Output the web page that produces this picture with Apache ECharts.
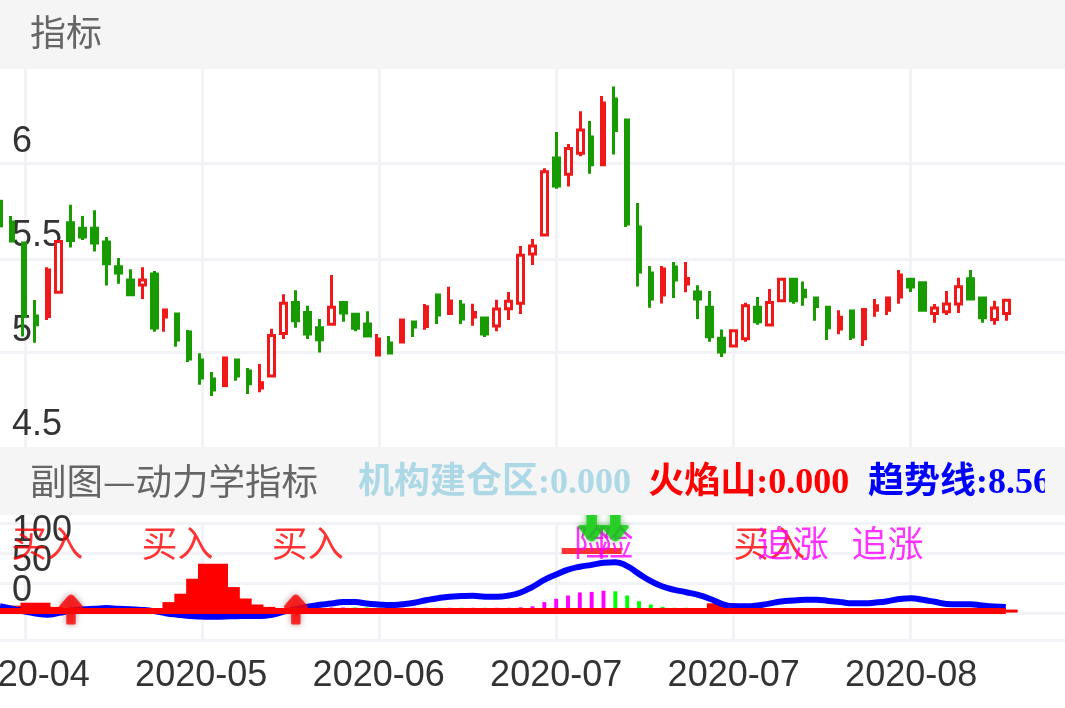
<!DOCTYPE html>
<html>
<head>
<meta charset="utf-8">
<title>指标</title>
<script src="https://cdn.jsdelivr.net/npm/echarts@6/dist/echarts.min.js"></script>
<style>
html, body { margin: 0; padding: 0; width: 100%; height: 100%; background: #fff; }
/* 手机图表尺寸 355x236，放大 3 倍显示 */
#main { width: 355px; height: 236px; transform: scale(3); transform-origin: 0 0; }
</style>
</head>
<body>
<div id="main"></div>
<script>
// 日期（横轴类目）
const categories = [
    '2020-04','2020-04','2020-04','2020-04','2020-04','2020-04','2020-04','2020-04','2020-04','2020-04',
    '2020-04','2020-04','2020-04','2020-04','2020-04','2020-05','2020-05','2020-05','2020-05','2020-05',
    '2020-05','2020-05','2020-05','2020-05','2020-05','2020-05','2020-05','2020-05','2020-05','2020-05',
    '2020-05','2020-06','2020-06','2020-06','2020-06','2020-06','2020-06','2020-06','2020-06','2020-06',
    '2020-06','2020-06','2020-06','2020-06','2020-06','2020-06','2020-06','2020-07','2020-07','2020-07',
    '2020-07','2020-07','2020-07','2020-07','2020-07','2020-07','2020-07','2020-07','2020-07','2020-07',
    '2020-07','2020-07','2020-07','2020-07','2020-07','2020-07','2020-07','2020-07','2020-07','2020-07',
    '2020-07','2020-07','2020-08','2020-08','2020-08','2020-08','2020-08','2020-08','2020-08','2020-08',
    '2020-08','2020-08','2020-08','2020-08','2020-08','2020-08','2020-08','2020-08','2020-08','2020-08',
    '2020-08'
];

// K线
const opens = [
    5.80,5.69,5.58,5.193,5.19,5.319,5.687,5.657,5.657,5.585,5.454,5.384,5.357,5.416,5.188,5.204,5.109,4.96,4.86,4.825,
    4.96,4.902,4.812,4.876,5.101,5.264,5.212,5.131,5.149,5.264,5.202,5.151,4.987,5.05,5.055,5.161,5.137,5.304,5.207,5.251,
    5.188,5.182,5.14,5.232,5.26,5.521,5.622,6.029,5.943,6.054,6.14,5.994,6.341,6.23,5.664,5.421,5.304,5.453,5.363,5.32,
    5.239,5.076,5.034,5.073,5.239,5.145,5.274,5.388,5.33,5.288,5.239,5.124,5.219,5.073,5.224,5.224,5.293,5.388,5.369,5.207,
    5.216,5.256,5.39,5.288,5.175,5.207
];
const closes = [
    5.67,5.59,5.193,5.147,5.437,5.587,5.592,5.611,5.58,5.47,5.421,5.306,5.384,5.13,5.225,5.066,4.966,4.865,4.802,4.971,
    4.876,4.834,4.84,5.09,5.26,5.168,5.098,5.068,5.239,5.209,5.128,5.087,5.071,4.997,5.172,5.135,5.242,5.198,5.272,5.177,
    5.212,5.098,5.23,5.271,5.514,5.563,5.957,5.881,6.079,6.177,5.994,6.32,6.174,5.68,5.426,5.283,5.442,5.384,5.391,5.283,
    5.083,5.002,5.115,5.247,5.163,5.265,5.387,5.274,5.295,5.244,5.131,5.187,5.082,5.228,5.247,5.288,5.41,5.346,5.224,5.235,
    5.256,5.348,5.283,5.184,5.235,5.277
];
const lows = [
    5.67,5.59,5.084,5.052,5.172,5.319,5.555,5.595,5.534,5.354,5.364,5.306,5.283,5.11,5.11,5.031,4.95,4.83,4.77,4.825,
    4.85,4.781,4.79,4.876,5.071,5.131,5.071,5.0,5.149,5.163,5.112,5.082,4.981,4.992,5.05,5.082,5.121,5.151,5.2,5.151,
    5.142,5.082,5.112,5.172,5.204,5.463,5.622,5.867,5.878,6.038,5.946,5.987,6.047,5.664,5.349,5.237,5.259,5.289,5.319,5.177,
    5.057,4.976,5.027,5.057,5.147,5.145,5.274,5.258,5.247,5.168,5.066,5.097,5.066,5.034,5.189,5.198,5.258,5.32,5.224,5.157,
    5.198,5.209,5.277,5.157,5.147,5.168
];
const highs = [
    5.80,5.722,5.58,5.278,5.451,5.587,5.782,5.722,5.752,5.611,5.5,5.44,5.451,5.431,5.23,5.204,5.119,4.996,4.897,4.971,
    4.96,4.918,4.939,5.126,5.308,5.329,5.248,5.177,5.41,5.269,5.207,5.218,5.098,5.087,5.172,5.167,5.256,5.304,5.348,5.278,
    5.258,5.188,5.279,5.32,5.563,5.6,5.975,6.167,6.103,6.276,6.225,6.357,6.408,6.23,5.791,5.458,5.458,5.479,5.479,5.356,
    5.325,5.122,5.122,5.263,5.293,5.336,5.387,5.396,5.376,5.293,5.239,5.224,5.224,5.228,5.283,5.288,5.436,5.394,5.369,5.256,
    5.325,5.396,5.436,5.293,5.274,5.277
];

// 趋势线
const trendLine = [
    12,8,3.5,0,-2,1,5,7,8,9,8,7,6,4,0.5,-2,-4,-5,-5.5,-5,
    -4.5,-4,-4,-2,3,7,11.5,14.5,16.5,19,19,16.5,15,14,15.5,18,22,25.5,28,29,
    29.5,28,28,30,35,44.5,56,65,73,78,81,84.5,85.5,79,66,54,45,39.5,35.5,31,
    24.5,16,12,12,13.3,16.5,20,21.7,22.8,22.8,21,19,17,17,18.3,20.5,24,25.5,22.8,19.5,
    16,15.5,15.5,13.3,11.7,11
];
// 火焰山 [类目序号, 数值]
const fireMountain = [
    [2,13],[3,18],[4,11],[15,19],[16,33],[17,58],[18,83],[19,44],[20,25],[21,15],[22,11],[23,5],[61,17],[62,12],[63,6]
];
// 机构建仓区 细柱
const magentaSticks = [
    [25,10],[26,10],[27,10],[28,10],[29,10],[34,9.5],[35,9.5],[36,9.5],[38,9.5],[40,9.5],[42,9.5],[43,9.5],[44,10.3],
    [45,12],[46,19],[47,24.5],[48,30],[49,35],[50,36],[51,38]
];
const greenSticks = [
    [30,10],[31,10],[32,10],[33,9.5],[37,9.5],[39,9.5],[41,9.5],[52,37],[53,30],[54,20.5],[55,15],[56,11],[57,9.5],[58,9.5]
];
// 底部红线
const baseThick = [[0,4],[85,4]];
const baseThin = [[85,4],[86,4]];
const topBar = [[50,104]];

// 信号
const buyPoints = [[4,117],[15,117],[26,117],[65,117]];
const chasePoints = [[67,117],[75,117]];
const riskPoints = [[50,119],[52,119]];
const upArrows = [[6,6.7],[25,6.7]];
const downArrows = [[50,150],[52,150]];

// 刻度
const mainGridTicks = [4.5, 5, 5.5, 6];
const subGridTicks = [-45, 0, 50, 100, 150];

const candleData = opens.map((o, i) => [o, closes[i], lows[i], highs[i]]);

const RED = '#f01818';
const GREEN = '#189b00';
const GRID_COLOR = '#f2f3f6';
const CJK = '"Noto Sans CJK SC", sans-serif';
const ARROW = 'path://M5 0Q5.8 0 6.4 .8L10 5.4Q10.4 6.4 9.2 6.4L7 6.4L7 13.4Q7 14 6.4 14L3.6 14Q3 14 3 13.4L3 6.4L.8 6.4Q-.4 6.4 0 5.4L3.6 .8Q4.2 0 5 0Z';

const showTick = (i) => (i - 2) % 15 === 0;

function textSeries(name, data, color, xIdx) {
    return {
        name: name,
        type: 'scatter',
        xAxisIndex: xIdx,
        yAxisIndex: 1,
        data: data,
        symbolSize: 1,
        clip: false,
        z: 6,
        itemStyle: { color: 'transparent' },
        label: {
            show: true,
            position: 'inside',
            formatter: name,
            color: color,
            fontSize: 12,
            fontFamily: CJK,
            textBorderWidth: 0
        }
    };
}

function barText(text, left, top, color, bold, size) {
    return {
        type: 'text',
        left: left,
        top: top,
        z: 101,
        style: {
            text: text,
            fill: color,
            fontSize: size || 12,
            fontWeight: bold ? 'bold' : 'normal',
            fontFamily: bold ? '"Liberation Serif", "Noto Sans CJK SC", serif' : CJK
        }
    };
}

const option = {
    animation: false,
    backgroundColor: '#fff',
    grid: [
        { left: 0, right: 0, top: 23, height: 126, outerBoundsMode: 'none' },
        { left: 0, right: 0, top: 174.5, height: 39, outerBoundsMode: 'none' }
    ],
    xAxis: [
        {
            type: 'category', gridIndex: 0, data: categories, boundaryGap: false,
            axisLine: { show: false }, axisTick: { show: false }, axisLabel: { show: false },
            splitLine: { show: true, interval: showTick, lineStyle: { color: GRID_COLOR, width: 1 } }
        },
        {
            type: 'category', gridIndex: 1, data: categories, boundaryGap: false,
            axisLine: { show: false }, axisTick: { show: false },
            axisLabel: { interval: showTick, color: '#333', fontSize: 12, margin: 6, fontFamily: 'Liberation Sans' },
            splitLine: { show: true, interval: showTick, lineStyle: { color: GRID_COLOR, width: 1 } }
        },
        {
            type: 'category', gridIndex: 1, data: categories, boundaryGap: false, show: false
        }
    ],
    yAxis: [
        {
            type: 'value', gridIndex: 0, min: 4.5, max: 6.5, interval: 0.5, scale: true,
            axisLine: { show: false },
            axisTick: { show: false, customValues: mainGridTicks },
            axisLabel: {
                inside: true, margin: 4, color: '#333', fontSize: 12, fontFamily: 'Liberation Sans',
                verticalAlign: 'bottom', padding: [0, 0, 1.2, 0],
                formatter: (v) => (v > 6.2 ? '' : String(v))
            },
            splitLine: { show: true, lineStyle: { color: GRID_COLOR, width: 1 } }
        },
        {
            type: 'value', gridIndex: 1, min: -45, max: 150,
            axisLine: { show: false },
            axisTick: { show: false, customValues: subGridTicks },
            axisLabel: {
                inside: true, margin: 4, color: '#333', fontSize: 12, fontFamily: 'Liberation Sans',
                verticalAlign: 'bottom', padding: [0, 0, 1.5, 0],
                customValues: subGridTicks,
                formatter: (v) => (v === 0 || v === 50 || v === 100 ? String(v) : '')
            },
            splitLine: { show: true, lineStyle: { color: GRID_COLOR, width: 1 } }
        }
    ],
    series: [
        {
            name: '指标',
            type: 'candlestick',
            xAxisIndex: 0,
            yAxisIndex: 0,
            data: candleData,
            itemStyle: {
                color: '#fff',
                color0: GREEN,
                borderColor: RED,
                borderColor0: GREEN,
                borderWidth: 1
            }
        },
        {
            name: '火焰山',
            type: 'bar',
            xAxisIndex: 1,
            yAxisIndex: 1,
            data: fireMountain,
            barWidth: 10,
            z: 2,
            itemStyle: { color: '#f00' }
        },
        {
            name: '机构建仓区',
            type: 'bar',
            xAxisIndex: 2,
            yAxisIndex: 1,
            data: magentaSticks,
            barWidth: 1.3,
            barGap: '-100%',
            z: 2,
            itemStyle: { color: '#f0f' }
        },
        {
            name: '机构出货',
            type: 'bar',
            xAxisIndex: 2,
            yAxisIndex: 1,
            data: greenSticks,
            barWidth: 1.3,
            barGap: '-100%',
            z: 2,
            itemStyle: { color: '#0f0' }
        },
        {
            name: '趋势线',
            type: 'line',
            xAxisIndex: 1,
            yAxisIndex: 1,
            data: trendLine,
            smooth: true,
            showSymbol: false,
            z: 3,
            lineStyle: { color: '#00f', width: 2 }
        },
        {
            name: '基线',
            type: 'line',
            xAxisIndex: 1,
            yAxisIndex: 1,
            data: baseThick,
            showSymbol: false,
            z: 4,
            lineStyle: { color: '#f00', width: 2 }
        },
        {
            name: '基线延伸',
            type: 'line',
            xAxisIndex: 1,
            yAxisIndex: 1,
            data: baseThin,
            showSymbol: false,
            z: 4,
            lineStyle: { color: '#f00', width: 1 }
        },
        {
            name: '红线',
            type: 'scatter',
            xAxisIndex: 1,
            yAxisIndex: 1,
            data: topBar,
            symbol: 'rect',
            symbolSize: [20, 2],
            z: 4,
            itemStyle: { color: '#f00' }
        },
        {
            name: '买点',
            type: 'scatter',
            xAxisIndex: 1,
            yAxisIndex: 1,
            data: upArrows,
            symbol: ARROW,
            symbolSize: [8, 10],
            clip: false,
            z: 3,
            itemStyle: { color: '#f00', shadowBlur: 2, shadowColor: 'rgba(120,60,60,0.7)' }
        },
        {
            name: '卖点',
            type: 'scatter',
            xAxisIndex: 1,
            yAxisIndex: 1,
            data: downArrows,
            symbol: ARROW,
            symbolSize: [9, 12],
            symbolRotate: 180,
            clip: false,
            z: 7,
            itemStyle: { color: '#0fd00f', shadowBlur: 2, shadowColor: 'rgba(0,140,0,0.6)' }
        },
        textSeries('买入', buyPoints, '#f00', 1),
        textSeries('追涨', chasePoints, '#f0f', 1),
        textSeries('险', riskPoints, '#f0f', 1)
    ],
    graphic: [
        { type: 'rect', left: 0, top: 0, z: 100, shape: { width: 355, height: 23 }, style: { fill: '#f5f5f5' } },
        { type: 'rect', left: 0, top: 149, z: 100, shape: { width: 355, height: 22.67 }, style: { fill: '#f5f5f5' } },
        barText('指标', 10, 4.7, '#666', false),
        barText('副图—动力学指标', 10, 154.3, '#666', false, 12.17),
        barText('机构建仓区:0.000', 119.3, 155.3, '#add8e6', true),
        barText('火焰山:0.000', 216.1, 155.3, '#f00', true),
        barText('趋势线:8.56', 289.3, 155.3, '#00f', true),
        { type: 'rect', left: 348.3, top: 149, z: 102, shape: { width: 6.7, height: 22.67 }, style: { fill: '#f5f5f5' } }
    ]
};

const chart = echarts.init(document.getElementById('main'), null, { devicePixelRatio: 3 });
chart.setOption(option);
</script>
</body>
</html>
